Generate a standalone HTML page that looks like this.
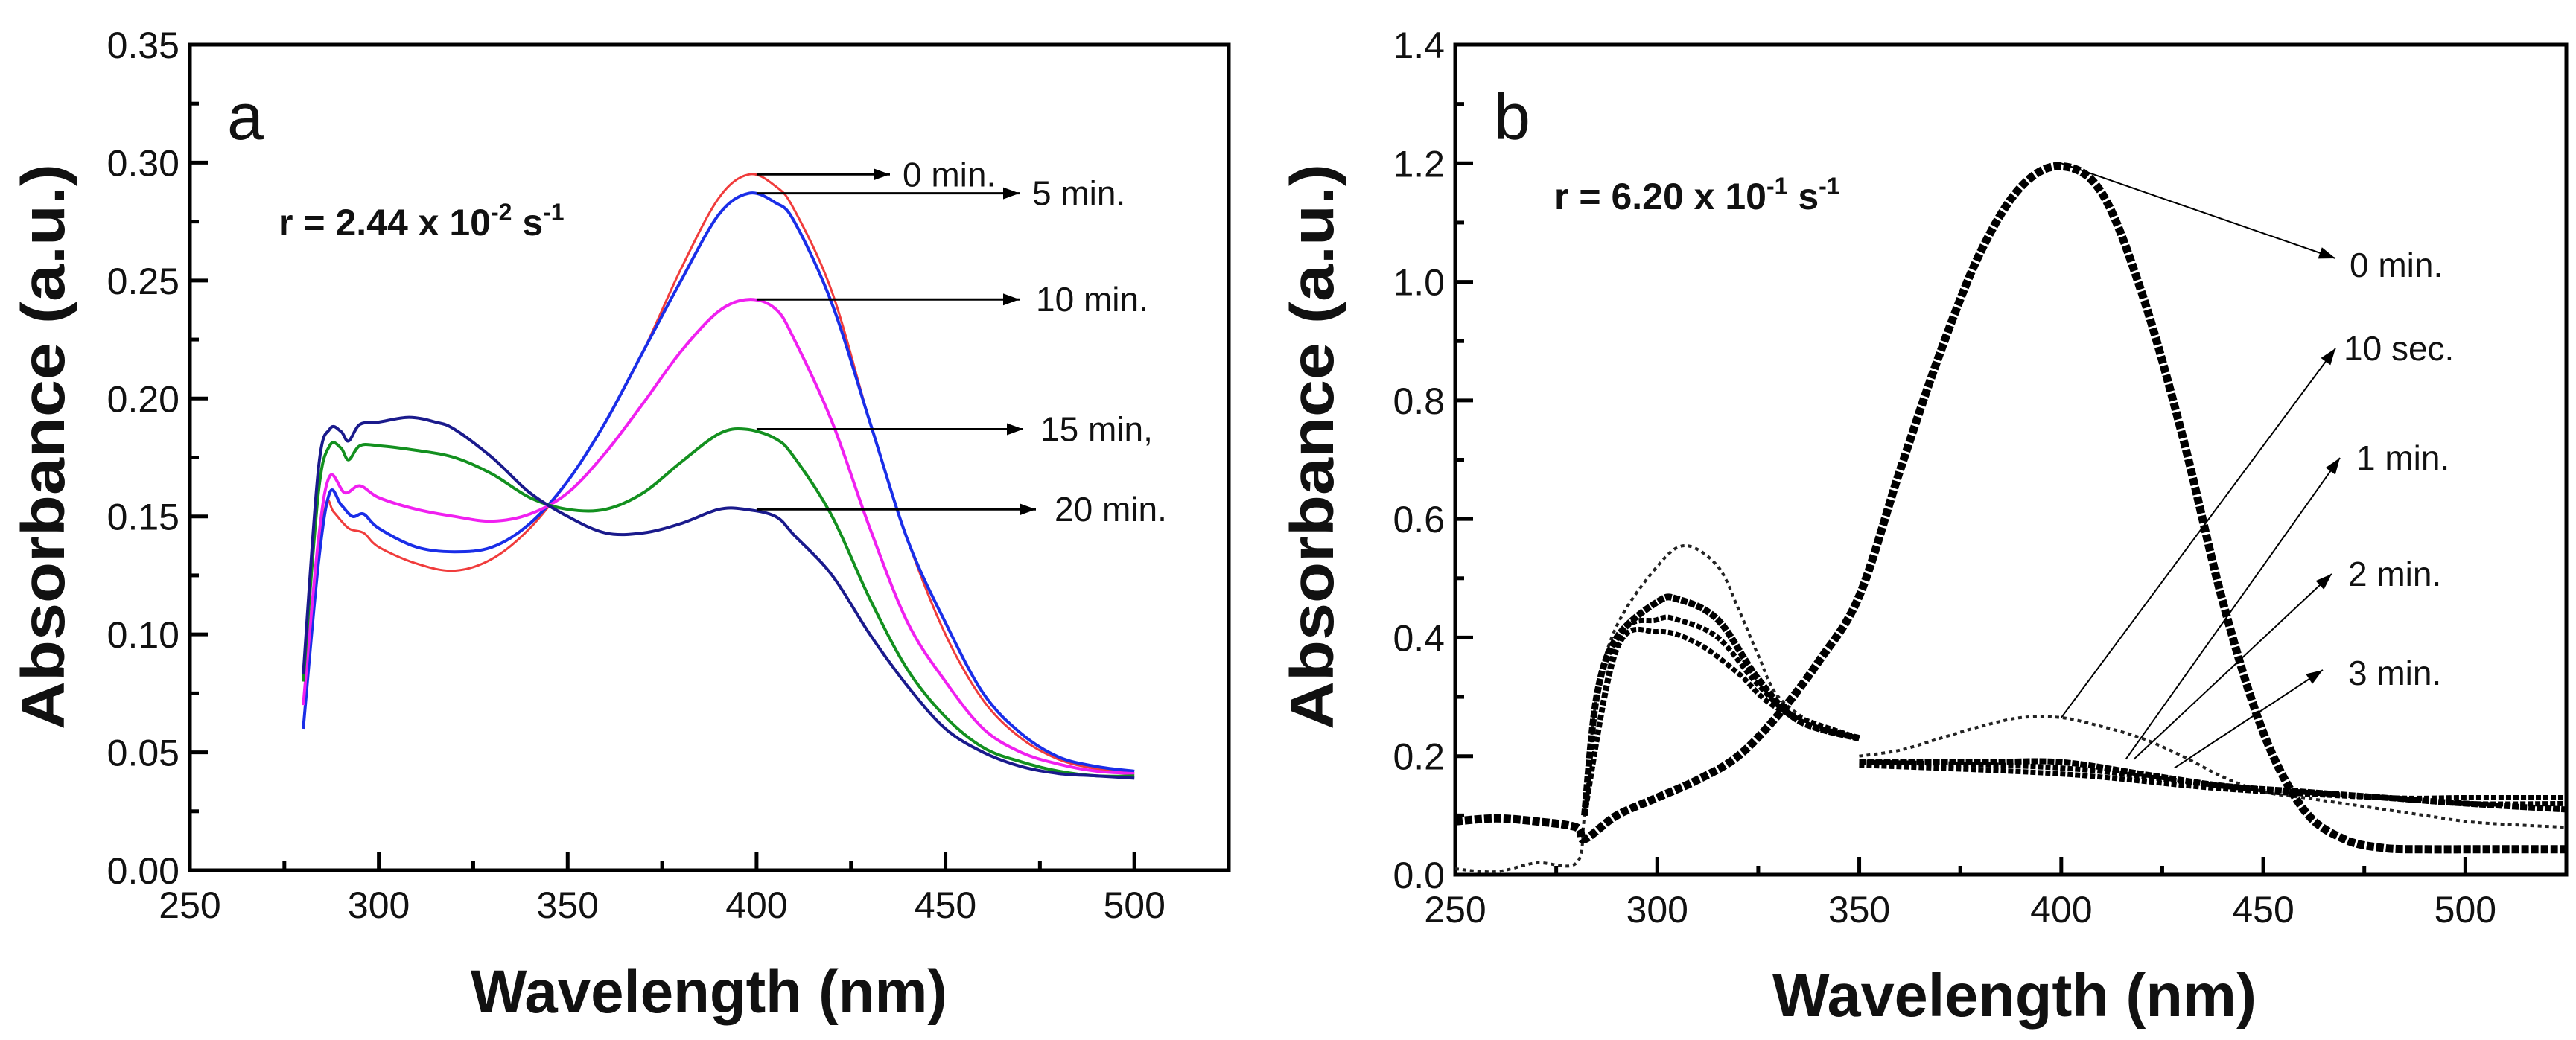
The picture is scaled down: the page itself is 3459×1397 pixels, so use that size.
<!DOCTYPE html>
<html><head><meta charset="utf-8"><style>
html,body{margin:0;padding:0;background:#fff}
svg{display:block}
text{font-family:"Liberation Sans",Arial,sans-serif;fill:#111}
</style></head><body>
<svg id="fig" width="3459" height="1397" viewBox="0 0 3459 1397" xmlns="http://www.w3.org/2000/svg">
<g id="pa"></g>
<g id="pb"></g>
</svg>
<script>
// ---------- Panel a data ----------
const aWl0 = [280,283,286,288,292,296,300,310,320,330,340,350,360,370,380,390,398,405,410,420,430,440,450,460,470,480,490,500];
const aRed = [0.06,0.12,0.155,0.152,0.145,0.143,0.137,0.13,0.127,0.132,0.145,0.165,0.19,0.22,0.255,0.285,0.295,0.29,0.28,0.245,0.19,0.14,0.10,0.072,0.056,0.047,0.043,0.041];
const aWl1 = [280,284,287,290,293,296,300,310,320,330,340,350,360,370,380,390,398,405,410,420,430,440,450,460,470,480,490,500];
const aBlue = [0.06,0.13,0.16,0.155,0.15,0.151,0.145,0.137,0.135,0.137,0.147,0.165,0.19,0.22,0.25,0.278,0.287,0.283,0.275,0.24,0.19,0.14,0.105,0.075,0.058,0.048,0.044,0.042];
const aWl2 = [280,284,287,291,295,300,310,320,330,340,350,360,370,380,390,398,405,410,420,430,440,450,460,470,480,490,500];
const aMag = [0.07,0.14,0.167,0.16,0.163,0.158,0.153,0.15,0.148,0.151,0.16,0.177,0.198,0.22,0.237,0.242,0.238,0.225,0.19,0.145,0.105,0.08,0.06,0.05,0.045,0.042,0.041];
const aWl3 = [280,284,287,290,292,295,300,310,320,330,340,350,360,370,380,390,397,405,410,420,430,440,450,460,470,480,490,500];
const aGreen = [0.08,0.16,0.18,0.179,0.174,0.18,0.18,0.178,0.175,0.168,0.158,0.153,0.153,0.16,0.173,0.185,0.187,0.183,0.175,0.15,0.115,0.085,0.065,0.052,0.046,0.042,0.04,0.04];
const aWl4 = [280,284,287,290,292,295,300,308,315,320,330,340,350,360,370,380,390,397,405,410,420,430,440,450,460,470,480,490,500];
const aNavy = [0.083,0.17,0.187,0.186,0.182,0.189,0.19,0.192,0.19,0.187,0.175,0.16,0.15,0.143,0.143,0.147,0.153,0.153,0.15,0.142,0.125,0.1,0.078,0.06,0.05,0.044,0.041,0.04,0.039];
const aXTicks = [250,300,350,400,450,500];
const aYTicks = [0,0.05,0.10,0.15,0.20,0.25,0.30,0.35];
const aYLabels = ["0.00","0.05","0.10","0.15","0.20","0.25","0.30","0.35"];
const aLabels = ["0 min.","5 min.","10 min.","15 min,","20 min."];
const aLabelPeaks = [0.295,0.287,0.242,0.187,0.153];

// ---------- Panel b data ----------
const b0Wl = [250,260,270,280,282,290,300,310,320,330,340,350,360,370,380,390,400,410,420,430,440,450,460,470,480,490,500,510,525];
const b0Val = [0.09,0.095,0.09,0.08,0.06,0.1,0.13,0.16,0.2,0.27,0.36,0.47,0.68,0.88,1.05,1.16,1.195,1.15,0.98,0.74,0.46,0.24,0.11,0.06,0.045,0.043,0.043,0.043,0.043];
const b1WlA = [250,260,270,280,282,285,290,300,307,315,320,325,330,340,350];
const b1ValA = [0.01,0.005,0.02,0.02,0.1,0.3,0.42,0.52,0.555,0.52,0.45,0.37,0.3,0.25,0.23];
const b1WlB = [350,360,370,380,390,400,410,420,430,440,450,460,470,480,490,500,510,525];
const b1ValB = [0.2,0.21,0.23,0.25,0.265,0.265,0.25,0.23,0.2,0.165,0.14,0.13,0.12,0.11,0.1,0.09,0.085,0.08];
const b2WlA = [282,285,290,300,305,315,325,335,350];
const b2ValA = [0.1,0.3,0.4,0.46,0.465,0.43,0.33,0.26,0.23];
const b2WlB = [350,380,400,420,440,460,480,500,525];
const b2ValB = [0.19,0.19,0.19,0.17,0.15,0.14,0.13,0.12,0.11];
const b3WlA = [282,290,300,305,315,325,335,350];
const b3ValA = [0.1,0.39,0.43,0.43,0.4,0.32,0.26,0.23];
const b3WlB = [350,400,440,480,500,525];
const b3ValB = [0.19,0.18,0.15,0.13,0.12,0.12];
const b4WlA = [282,290,300,310,320,330,350];
const b4ValA = [0.1,0.38,0.41,0.39,0.34,0.28,0.23];
const b4WlB = [350,400,440,480,500,525];
const b4ValB = [0.185,0.17,0.145,0.13,0.13,0.13];
const bXTicks = [250,300,350,400,450,500];
const bYTicks = [0,0.2,0.4,0.6,0.8,1.0,1.2,1.4];
const bYLabels = ["0.0","0.2","0.4","0.6","0.8","1.0","1.2","1.4"];
const bLabels = ["0 min.","10 sec.","1 min.","2 min.","3 min."];
const bStartWl = [400,400,416,418,428];
const bStartVal = [1.2,0.265,0.195,0.195,0.18];

const NS="http://www.w3.org/2000/svg";
function mk(parent,tag,attrs,txt){const e=document.createElementNS(NS,tag);for(const k in attrs)e.setAttribute(k,attrs[k]);if(txt!==undefined)e.textContent=txt;parent.appendChild(e);return e;}

function axes(g,L,R,T,B,xmin,xmax,ymax,xt,yt,yl){
  const sx=v=>L+(v-xmin)/(xmax-xmin)*(R-L);
  const sy=v=>B-(v/ymax)*(B-T);
  const fr=mk(g,'rect',{x:L,y:T,width:R-L,height:B-T,fill:'none',stroke:'#000','stroke-width':5});
  
  
  for(let v=xmin;v<=xmax;v+=25){const big=(v%50===0);mk(g,'line',{x1:sx(v),x2:sx(v),y1:B,y2:B-(big?24:12),stroke:'#000','stroke-width':5});}
  xt.forEach(v=>{const t=mk(g,'text',{x:sx(v),y:B+64,'font-size':50,'text-anchor':'middle'},String(v));
    
    });
  for(let i=0;i<yt.length;i++){
    mk(g,'line',{x1:L,x2:L+24,y1:sy(yt[i]),y2:sy(yt[i]),stroke:'#000','stroke-width':5});
    if(i<yt.length-1){const m=(yt[i]+yt[i+1])/2;mk(g,'line',{x1:L,x2:L+12,y1:sy(m),y2:sy(m),stroke:'#000','stroke-width':5});}
    const t=mk(g,'text',{x:L-14,y:sy(yt[i])+18,'font-size':50,'text-anchor':'end'},yl[i]);
    
    
  }
  return {sx,sy};
}
function smoothPath(P){
  let d='M'+P[0][0].toFixed(1)+','+P[0][1].toFixed(1);
  for(let i=0;i<P.length-1;i++){
    const p0=P[Math.max(0,i-1)],p1=P[i],p2=P[i+1],p3=P[Math.min(P.length-1,i+2)];
    const c1=[p1[0]+(p2[0]-p0[0])/6,p1[1]+(p2[1]-p0[1])/6];
    const c2=[p2[0]-(p3[0]-p1[0])/6,p2[1]-(p3[1]-p1[1])/6];
    d+=' C'+c1[0].toFixed(1)+','+c1[1].toFixed(1)+' '+c2[0].toFixed(1)+','+c2[1].toFixed(1)+' '+p2[0].toFixed(1)+','+p2[1].toFixed(1);
  }
  return d;
}
function line(g,sx,sy,xs,ys,color,w,dash,name){
  const P=xs.map((x,i)=>[sx(x),sy(ys[i])]);
  const a={d:smoothPath(P),fill:'none',stroke:color,'stroke-width':w,'stroke-linejoin':'round'};
  if(dash)a['stroke-dasharray']=dash;
  const p=mk(g,'path',a);
  
  
  return p;
}
function arrow(g,x1,y1,x2,y2,w){
  mk(g,'line',{x1,y1,x2,y2,stroke:'#000','stroke-width':w});
  const ang=Math.atan2(y2-y1,x2-x1),L=22,W=8;
  const p=[[x2,y2],[x2-L*Math.cos(ang)+W*Math.sin(ang),y2-L*Math.sin(ang)-W*Math.cos(ang)],[x2-L*Math.cos(ang)-W*Math.sin(ang),y2-L*Math.sin(ang)+W*Math.cos(ang)]];
  const h=mk(g,'polygon',{points:p.map(q=>q.join(',')).join(' '),fill:'#000'});
  
  
}

// ---------- Panel a ----------
(function(){
  const g=document.getElementById('pa');
  const {sx,sy}=axes(g,255,1650,60,1169,250,525,0.35,aXTicks,aYTicks,aYLabels);
  line(g,sx,sy,aWl0,aRed,'#f03c3c',3,null,'series-0-min');
  line(g,sx,sy,aWl1,aBlue,'#1a2ee8',4,null,'series-5-min');
  line(g,sx,sy,aWl2,aMag,'#f020f0',4,null,'series-10-min');
  line(g,sx,sy,aWl3,aGreen,'#13901f',4,null,'series-15-min');
  line(g,sx,sy,aWl4,aNavy,'#1a1a8c',4,null,'series-20-min');
  const ends=[1195,1369,1369,1374,1391];
  const lx=[1212,1386,1391,1397,1416];
  aLabels.forEach((s,i)=>{
    arrow(g,sx(400),sy(aLabelPeaks[i]),ends[i],sy(aLabelPeaks[i]),3);
    const t=mk(g,'text',{x:lx[i],y:sy(aLabelPeaks[i])+16,'font-size':46},s);
    
    
  });
  const pl=mk(g,'text',{x:305,y:187,'font-size':88},'a');
  
  
  const r=mk(g,'text',{x:374,y:316,'font-size':50,'font-weight':'bold'});
  
  
  r.innerHTML='r = 2.44 x 10<tspan dy="-20" font-size="32">-2</tspan><tspan dy="20"> s</tspan><tspan dy="-20" font-size="32">-1</tspan>';
  const xt=mk(g,'text',{x:952,y:1360,'font-size':82,'font-weight':'bold','text-anchor':'middle',textLength:640,lengthAdjust:'spacingAndGlyphs'},'Wavelength (nm)');
  
  
  const yt=mk(g,'text',{x:0,y:0,'font-size':82,'font-weight':'bold','text-anchor':'middle',transform:'translate(86,600) rotate(-90)',textLength:760,lengthAdjust:'spacingAndGlyphs'},'Absorbance (a.u.)');
  
  
})();

// ---------- Panel b ----------
(function(){
  const g=document.getElementById('pb');
  const {sx,sy}=axes(g,1954,3446,60,1175,250,525,1.4,bXTicks,bYTicks,bYLabels);
  line(g,sx,sy,b1WlA,b1ValA,'#222',4,'5 5','series-10-sec-uv');
  line(g,sx,sy,b1WlB,b1ValB,'#222',4,'5 5','series-10-sec-vis');
  line(g,sx,sy,b2WlA,b2ValA,'#000',9,'9 2','series-1-min-uv');
  line(g,sx,sy,b2WlB,b2ValB,'#000',8,'9 2','series-1-min-vis');
  line(g,sx,sy,b3WlA,b3ValA,'#000',7,'7 3','series-2-min-uv');
  line(g,sx,sy,b3WlB,b3ValB,'#000',7,'7 3','series-2-min-vis');
  line(g,sx,sy,b4WlA,b4ValA,'#000',7,'7 3','series-3-min-uv');
  line(g,sx,sy,b4WlB,b4ValB,'#000',7,'7 3','series-3-min-vis');
  line(g,sx,sy,b0Wl,b0Val,'#000',11,'10 3','series-0-min');
  const ends=[[3136,347],[3136,468],[3142,615],[3131,771],[3119,900]];
  const lab=[[3155,372],[3147,484],[3164,631],[3153,787],[3153,920]];
  bLabels.forEach((s,i)=>{
    arrow(g,sx(bStartWl[i]),sy(bStartVal[i]),ends[i][0],ends[i][1],2);
    const t=mk(g,'text',{x:lab[i][0],y:lab[i][1],'font-size':46},s);
    
    
  });
  const pl=mk(g,'text',{x:2006,y:187,'font-size':88},'b');
  
  
  const r=mk(g,'text',{x:2087,y:281,'font-size':50,'font-weight':'bold'});
  
  
  r.innerHTML='r = 6.20 x 10<tspan dy="-20" font-size="32">-1</tspan><tspan dy="20"> s</tspan><tspan dy="-20" font-size="32">-1</tspan>';
  const xt=mk(g,'text',{x:2705,y:1365,'font-size':82,'font-weight':'bold','text-anchor':'middle',textLength:650,lengthAdjust:'spacingAndGlyphs'},'Wavelength (nm)');
  
  
  const yt=mk(g,'text',{x:0,y:0,'font-size':82,'font-weight':'bold','text-anchor':'middle',transform:'translate(1790,600) rotate(-90)',textLength:760,lengthAdjust:'spacingAndGlyphs'},'Absorbance (a.u.)');
  
  
})();
</script>
</body></html>
